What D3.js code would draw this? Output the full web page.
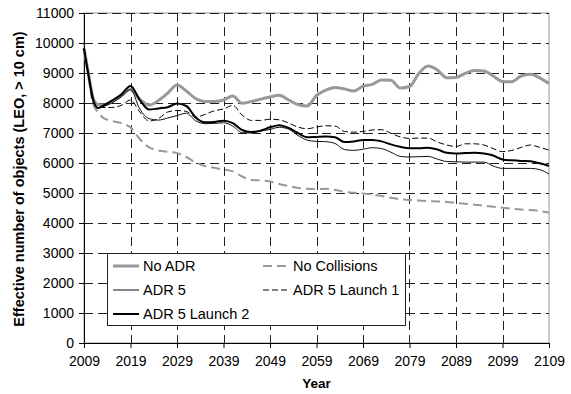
<!DOCTYPE html>
<html>
<head>
<meta charset="utf-8">
<script src="https://cdn.jsdelivr.net/npm/d3@7"></script>
<style>
  html, body { margin: 0; padding: 0; background: #fff; }
  svg { display: block; font-family: "Liberation Sans", Arial, sans-serif; }
</style>
</head>
<body>
<svg id="chart" width="571" height="394"></svg>
<script>
// Simulation years (yearly at the start, then every two years)
const years = [2009, 2010, 2011, 2012,
  2013, 2015, 2017, 2019, 2021, 2023, 2025, 2027, 2029, 2031,
  2033, 2035, 2037, 2039, 2041, 2043, 2045, 2047, 2049, 2051,
  2053, 2055, 2057, 2059, 2061, 2063, 2065, 2067, 2069, 2071,
  2073, 2075, 2077, 2079, 2081, 2083, 2085, 2087, 2089, 2091,
  2093, 2095, 2097, 2099, 2101, 2103, 2105, 2107, 2109];

const noADR = [9820, 8950, 8150, 7950,
  7930, 8050, 8250, 8450, 8120, 7930, 8080, 8330, 8600, 8400,
  8150, 8050, 8050, 8100, 8230, 7990, 8050, 8130, 8200, 8260,
  8100, 7950, 7900, 8250, 8430, 8520, 8470, 8400, 8560, 8620,
  8770, 8760, 8500, 8550, 8980, 9230, 9100, 8840, 8850, 8990,
  9080, 9070, 8900, 8720, 8710, 8900, 8960, 8840, 8650];

const noCollisions = [9820, 8800, 7950, 7700,
  7520, 7400, 7330, 7180, 6800, 6520, 6420, 6370, 6330, 6200,
  6020, 5900, 5840, 5780, 5720, 5550, 5430, 5420, 5380, 5300,
  5230, 5170, 5140, 5130, 5140, 5100, 5040, 5010, 4980, 4950,
  4900, 4840, 4790, 4770, 4750, 4730, 4720, 4700, 4670, 4640,
  4610, 4580, 4540, 4510, 4480, 4450, 4430, 4400, 4350];

const adr5 = [9820, 8900, 8050, 7850,
  7880, 8000, 8200, 8450, 7800, 7480, 7430, 7500, 7580, 7660,
  7410, 7310, 7320, 7340, 7230, 7010, 7000, 7060, 7120, 7190,
  7130, 6920, 6760, 6720, 6710, 6650, 6450, 6420, 6460, 6510,
  6480, 6360, 6220, 6200, 6210, 6220, 6130, 6050, 6040, 6030,
  6030, 6030, 5900, 5820, 5820, 5820, 5820, 5780, 5630];

const adr5Launch1 = [9820, 8850, 8000, 7880,
  7850, 7850, 7920, 8100, 7700, 7400, 7480, 7700, 7750, 7720,
  7530, 7620, 7740, 7800, 7920, 7600, 7420, 7420, 7460, 7440,
  7330, 7200, 7140, 7200, 7240, 7230, 7050, 7030, 7050, 7100,
  7110, 6990, 6870, 6820, 6830, 6830, 6700, 6600, 6550, 6640,
  6640, 6600, 6480, 6380, 6420, 6520, 6600, 6520, 6430];

const adr5Launch2 = [9820, 8900, 8100, 7830,
  7900, 8080, 8280, 8570, 8100, 7780, 7820, 7860, 7980, 7900,
  7520, 7360, 7370, 7410, 7330, 7100, 7030, 7080, 7190, 7260,
  7170, 7000, 6860, 6870, 6880, 6860, 6700, 6720, 6770, 6770,
  6720, 6620, 6540, 6490, 6490, 6510, 6450, 6340, 6320, 6330,
  6340, 6320, 6250, 6120, 6090, 6070, 6060, 5990, 5900];

const xTicks = [2009, 2019, 2029, 2039, 2049, 2059, 2069, 2079, 2089, 2099, 2109];
const yTicks = [0, 1000, 2000, 3000, 4000, 5000, 6000, 7000, 8000, 9000, 10000, 11000];

const seriesNames = ["No ADR", "No Collisions", "ADR 5", "ADR 5 Launch 1", "ADR 5 Launch 2"];

// Line styling per series
const styles = {
  "No ADR":         { stroke: "#999999", width: 3,   dash: null },
  "No Collisions":  { stroke: "#999999", width: 2,   dash: "9,5" },
  "ADR 5":          { stroke: "#111111", width: 1,   dash: null },
  "ADR 5 Launch 1": { stroke: "#000000", width: 1,   dash: "6,3" },
  "ADR 5 Launch 2": { stroke: "#000000", width: 2,   dash: null }
};

const seriesValues = [noADR, noCollisions, adr5, adr5Launch1, adr5Launch2];

const svg = d3.select("#chart");
const margin = { left: 84, right: 22, top: 13, bottom: 51 };
const W = 571, H = 394;
const x = d3.scaleLinear().domain([2009, 2109]).range([margin.left, W - margin.right]);
const y = d3.scaleLinear().domain([0, 11000]).range([H - margin.bottom, margin.top]);

// Plot area border
svg.append("rect")
  .attr("x", x(2009)).attr("y", y(11000))
  .attr("width", x(2109) - x(2009)).attr("height", y(0) - y(11000))
  .attr("fill", "#fff").attr("stroke", "#999").attr("stroke-width", 1);

// Dashed grid
const grid = svg.append("g").attr("stroke", "#222").attr("stroke-width", 1)
  .attr("stroke-dasharray", "9,5").attr("shape-rendering", "crispEdges");
grid.selectAll("line.h").data(yTicks.filter(d => d > 0)).join("line")
  .attr("x1", x(2009)).attr("x2", x(2109))
  .attr("y1", d => Math.round(y(d)) + 0.5).attr("y2", d => Math.round(y(d)) + 0.5);
grid.selectAll("line.v").data(xTicks.filter(d => d > 2009 && d < 2109)).join("line")
  .attr("x1", d => Math.round(x(d)) + 0.5).attr("x2", d => Math.round(x(d)) + 0.5)
  .attr("y1", y(11000)).attr("y2", y(0));

// Axes
const xAxis = svg.append("g").attr("transform", `translate(0,${y(0)})`)
  .call(d3.axisBottom(x).tickValues(xTicks).tickFormat(d3.format("d")).tickSizeOuter(0).tickSize(5).tickPadding(8));
const yAxis = svg.append("g").attr("transform", `translate(${x(2009)},0)`)
  .call(d3.axisLeft(y).tickValues(yTicks).tickFormat(d3.format("d")).tickSizeOuter(0).tickSize(5).tickPadding(5));
[xAxis, yAxis].forEach(g => {
  g.selectAll("text").attr("font-size", 14).attr("fill", "#000")
    .attr("font-family", "'Liberation Sans', Arial, sans-serif");
  g.selectAll("line, path").attr("stroke", "#000");
});

// Axis titles
svg.append("text").attr("x", (x(2009) + x(2109)) / 2).attr("y", 388)
  .attr("text-anchor", "middle").attr("font-weight", "bold").attr("font-size", 13.5)
  .text("Year");
svg.append("text")
  .attr("transform", `translate(24,${(y(0) + y(11000)) / 2 + 1}) rotate(-90)`)
  .attr("text-anchor", "middle").attr("font-weight", "bold").attr("font-size", 14.5)
  .text("Effective number of objects (LEO, > 10 cm)");

// Series lines
const line = d3.line().x((d, i) => x(years[i])).y(d => y(d)).curve(d3.curveMonotoneX);
seriesNames.forEach((name, k) => {
  const s = styles[name];
  svg.append("path").datum(seriesValues[k])
    .attr("fill", "none").attr("stroke", s.stroke).attr("stroke-width", s.width)
    .attr("stroke-dasharray", s.dash).attr("stroke-linejoin", "round")
    .attr("d", line);
});

// Legend
const lg = svg.append("g");
lg.append("rect").attr("x", 107.5).attr("y", 253.5).attr("width", 298).attr("height", 72)
  .attr("fill", "#fff").attr("stroke", "#222").attr("stroke-width", 1);
const legendPos = [
  { col: 0, row: 0 }, { col: 1, row: 0 },
  { col: 0, row: 1 }, { col: 1, row: 1 },
  { col: 0, row: 2 }
];
const colX = [113, 263];
const rowY = [266, 290, 314];
seriesNames.forEach((name, k) => {
  const p = legendPos[k], s = styles[name];
  const lx = colX[p.col], ly = rowY[p.row];
  lg.append("line").attr("x1", lx).attr("x2", lx + 26).attr("y1", ly).attr("y2", ly)
    .attr("stroke", s.stroke).attr("stroke-width", s.width).attr("stroke-dasharray", s.dash);
  lg.append("text").attr("x", lx + 30).attr("y", ly).attr("dy", "0.36em")
    .attr("font-size", 14.5).text(name);
});
</script>
</body>
</html>
